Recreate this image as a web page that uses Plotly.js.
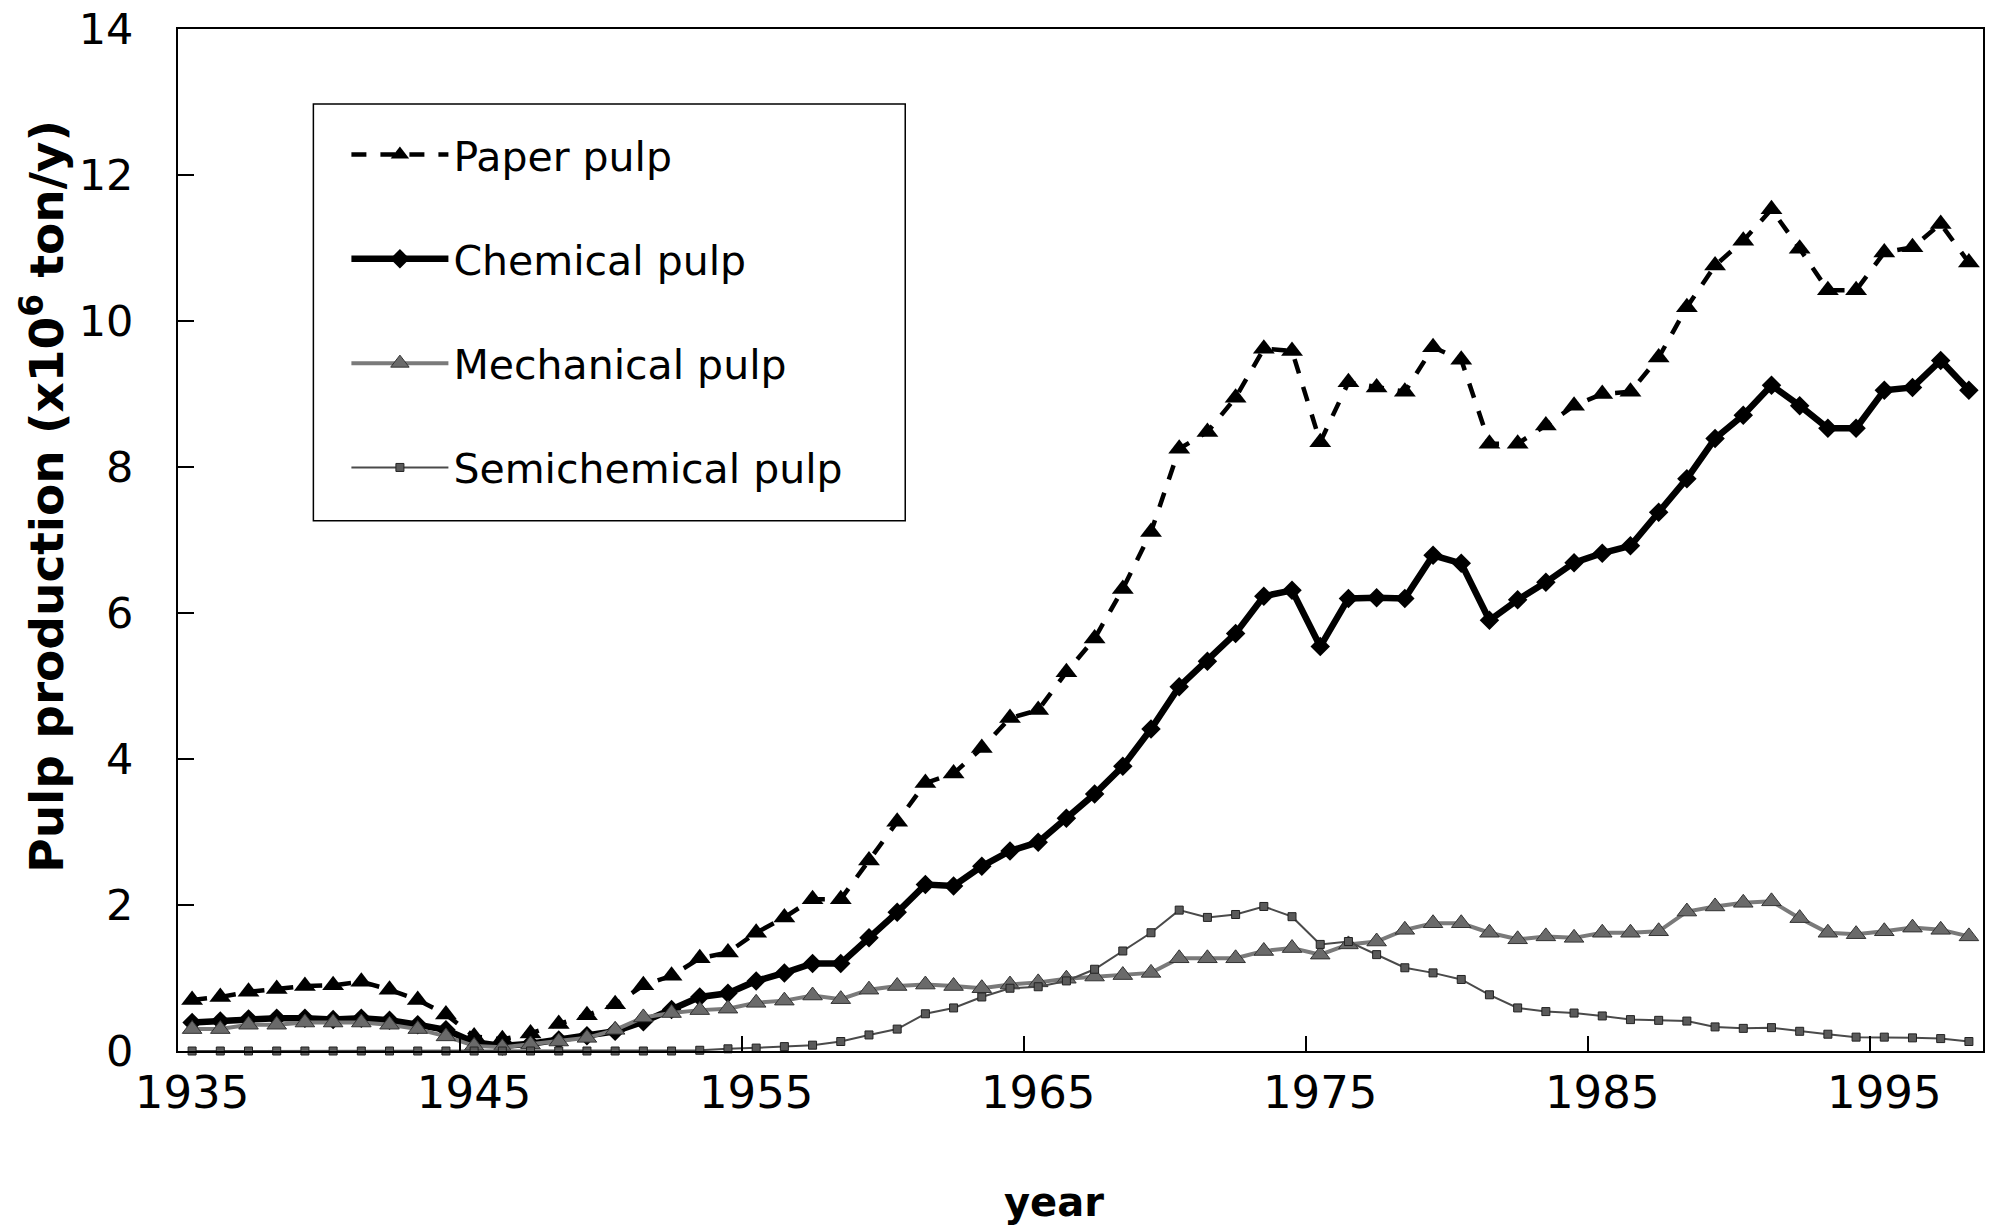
<!DOCTYPE html>
<html>
<head>
<meta charset="utf-8">
<script src="https://cdn.plot.ly/plotly-3.0.1.min.js"></script>
<style>html,body{margin:0;padding:0;background:#fff;}#chart{width:1996px;height:1230px;}</style>
</head>
<body>
<div id="chart"></div>
<script>
const years = [1935,1936,1937,1938,1939,1940,1941,1942,1943,1944,1945,1946,1947,1948,1949,1950,1951,1952,1953,1954,1955,1956,1957,1958,1959,1960,1961,1962,1963,1964,1965,1966,1967,1968,1969,1970,1971,1972,1973,1974,1975,1976,1977,1978,1979,1980,1981,1982,1983,1984,1985,1986,1987,1988,1989,1990,1991,1992,1993,1994,1995,1996,1997,1998];

const paperPulp = [0.70,0.74,0.81,0.85,0.89,0.90,0.95,0.84,0.70,0.50,0.20,0.16,0.24,0.37,0.49,0.64,0.90,1.03,1.27,1.35,1.62,1.83,2.08,2.08,2.61,3.14,3.67,3.80,4.15,4.56,4.67,5.19,5.65,6.33,7.11,8.25,8.48,8.95,9.62,9.59,8.34,9.16,9.09,9.03,9.64,9.47,8.32,8.32,8.57,8.84,9.00,9.03,9.50,10.19,10.76,11.10,11.53,10.99,10.42,10.42,10.94,11.01,11.33,10.80];

const chemicalPulp = [0.39,0.41,0.44,0.45,0.45,0.43,0.45,0.42,0.36,0.29,0.12,0.07,0.10,0.15,0.21,0.27,0.40,0.57,0.74,0.79,0.96,1.07,1.20,1.20,1.55,1.90,2.28,2.26,2.53,2.74,2.86,3.19,3.52,3.90,4.41,4.99,5.34,5.72,6.23,6.31,5.54,6.20,6.21,6.20,6.79,6.68,5.90,6.18,6.42,6.69,6.82,6.92,7.38,7.84,8.39,8.71,9.12,8.84,8.53,8.53,9.05,9.09,9.46,9.05];

const mechanicalPulp = [0.30,0.30,0.36,0.36,0.39,0.39,0.39,0.36,0.30,0.20,0.07,0.05,0.09,0.13,0.18,0.29,0.46,0.52,0.56,0.58,0.66,0.69,0.76,0.71,0.84,0.89,0.91,0.89,0.86,0.91,0.94,0.99,1.02,1.04,1.07,1.27,1.27,1.27,1.37,1.41,1.32,1.46,1.50,1.66,1.75,1.75,1.62,1.53,1.57,1.55,1.62,1.62,1.64,1.91,1.98,2.03,2.05,1.82,1.62,1.60,1.64,1.69,1.66,1.57];

const semichemicalPulp = [0,0,0,0,0,0,0,0,0,0,0,0,0,0,0,0,0,0,0.01,0.03,0.04,0.06,0.08,0.13,0.22,0.30,0.51,0.59,0.74,0.86,0.88,0.96,1.12,1.37,1.62,1.93,1.83,1.87,1.98,1.84,1.46,1.50,1.32,1.14,1.07,0.98,0.77,0.59,0.54,0.52,0.48,0.43,0.42,0.41,0.33,0.31,0.32,0.27,0.23,0.19,0.19,0.18,0.17,0.13];

const seriesNames = ["Paper pulp", "Chemical pulp", "Mechanical pulp", "Semichemical pulp"];
const xTickVals = [1935,1945,1955,1965,1975,1985,1995];
const xTickText = ["1935","1945","1955","1965","1975","1985","1995"];
const xTickMarks = [1944.5,1954.5,1964.5,1974.5,1984.5,1994.5];
const yTitle = "Pulp production (x10<sup>6</sup> ton/y)";
const xTitle = "year";

const FONT = "'DejaVu Sans', 'Liberation Sans', Arial, sans-serif";
const X_RANGE = [1934.5, 1998.5];

const traces = [
  {
    x: years, y: paperPulp, name: seriesNames[0], legendgroup: "g1",
    type: "scatter", mode: "lines+markers", cliponaxis: false,
    line: {color: "#000", width: 4.5, dash: "15px,14px"},
    marker: {symbol: "triangle-up", size: 19, color: "#000"}
  },
  {
    x: years, y: chemicalPulp, name: seriesNames[1], legendgroup: "g2",
    type: "scatter", mode: "lines+markers", cliponaxis: false,
    line: {color: "#000", width: 6.5},
    marker: {symbol: "diamond", size: 15, color: "#000"}
  },
  {
    x: years, y: mechanicalPulp, name: seriesNames[2], legendgroup: "g3",
    type: "scatter", mode: "lines+markers", cliponaxis: false,
    line: {color: "#7a7a7a", width: 4},
    marker: {symbol: "triangle-up", size: 17, color: "#6a6a6a", line: {color: "#333", width: 1}}
  },
  {
    x: years, y: semichemicalPulp, name: seriesNames[3], legendgroup: "g4",
    xaxis: "x2", yaxis: "y",
    type: "scatter", mode: "lines+markers", cliponaxis: false,
    line: {color: "#4a4a4a", width: 2},
    marker: {symbol: "square", size: 8, color: "#5a5a5a", line: {color: "#222", width: 1}}
  }
];

const layout = {
  width: 1996, height: 1230,
  paper_bgcolor: "#fff", plot_bgcolor: "#fff",
  font: {family: FONT, color: "#000", size: 44},
  margin: {l: 178, r: 13, t: 29, b: 179, pad: 0},
  showlegend: true,
  legend: {
    x: 0.0933, y: 0.9096, xanchor: "left", yanchor: "top",
    bgcolor: "rgba(0,0,0,0)", borderwidth: 0,
    font: {family: FONT, size: 41, color: "#000"},
    traceorder: "grouped", tracegroupgap: 48,
    itemwidth: 97
  },
  shapes: [
    {
      type: "rect", xref: "paper", yref: "paper",
      x0: 0.0750, x1: 0.4029, y0: 0.5188, y1: 0.9266,
      line: {color: "#000", width: 1.5}, fillcolor: "#fff", layer: "below"
    }
  ],
  xaxis: {
    range: X_RANGE,
    tickmode: "array", tickvals: xTickMarks, showticklabels: false,
    ticks: "inside", ticklen: 15, tickwidth: 1.5, tickcolor: "#000",
    showgrid: false, zeroline: false,
    showline: true, mirror: true, linecolor: "#000", linewidth: 2
  },
  xaxis2: {
    overlaying: "x", anchor: "y", side: "bottom",
    range: X_RANGE,
    tickmode: "array", tickvals: xTickVals, ticktext: xTickText,
    ticks: "", showgrid: false, zeroline: false, showline: false,
    tickfont: {family: FONT, size: 45, color: "#000"},
    ticklabelstandoff: 11
  },
  yaxis: {
    range: [0, 14], tickmode: "linear", tick0: 0, dtick: 2,
    ticks: "inside", ticklen: 16, tickwidth: 1.5, tickcolor: "#000",
    showgrid: false, zeroline: false,
    showline: true, mirror: true, linecolor: "#000", linewidth: 2,
    tickfont: {family: FONT, size: 43, color: "#000"},
    ticklabelstandoff: 34
  },
  annotations: [
    {
      text: "<b>" + yTitle + "</b>",
      xref: "paper", yref: "paper", x: -0.0745, y: 0.5428,
      xanchor: "center", yanchor: "middle", textangle: -90, showarrow: false,
      font: {family: FONT, size: 47, color: "#000"}
    },
    {
      text: "<b>" + xTitle + "</b>",
      xref: "paper", yref: "paper", x: 0.4855, y: -0.1482,
      xanchor: "center", yanchor: "middle", showarrow: false,
      font: {family: FONT, size: 40, color: "#000"}
    }
  ]
};

Plotly.newPlot("chart", traces, layout, {displayModeBar: false, staticPlot: true});
</script>
</body>
</html>
